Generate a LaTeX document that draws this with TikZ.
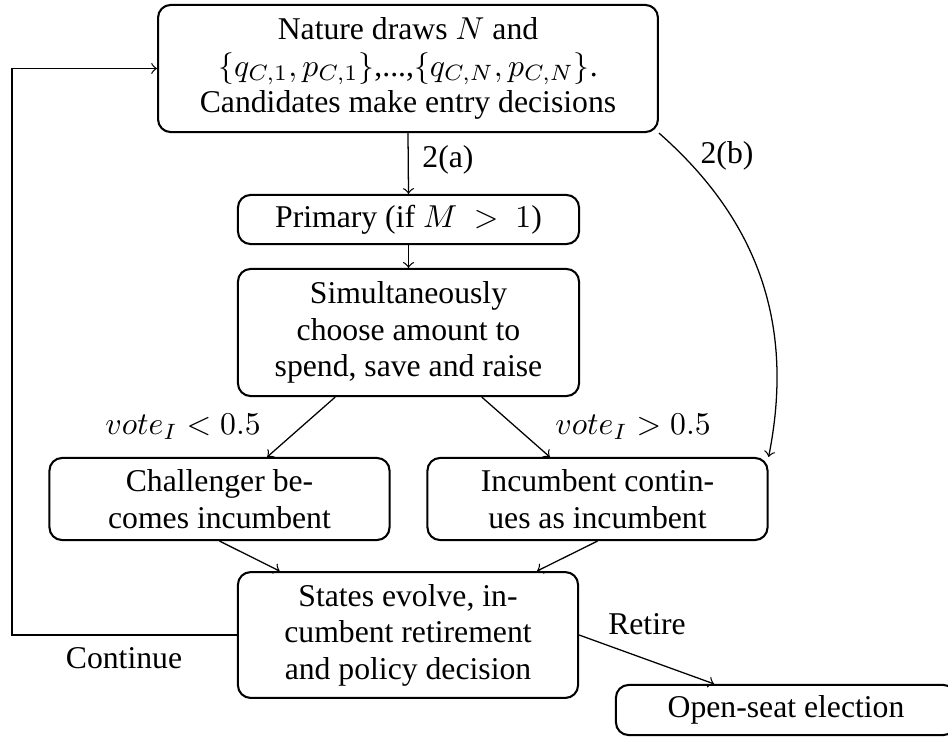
\documentclass[tikz,border=0pt]{standalone}
\usepackage{fontspec}
\setmainfont{Liberation Serif}
\begin{document}
\begin{tikzpicture}[x=0.31546pt, y=-0.31546pt,
  box/.style={draw, line width=0.65pt, rounded corners=4pt, align=center, inner sep=0pt, font=\fontsize{10}{11.5}\selectfont},
  conn/.style={->, line width=0.4pt},
  lbl/.style={font=\fontsize{10}{11.5}\selectfont, inner sep=0pt}]
\useasboundingbox (0,0) rectangle (948,738);
\clip (0,0) rectangle (948,738);

\node[box, minimum width=157.7pt, minimum height=40.1pt] (top) at (408,68.5)
  {Nature draws $N$ and\\ $\{q_{C,1},p_{C,1}\}$,...,$\{q_{C,N},p_{C,N}\}$.\\ Candidates make entry decisions};
\node[box, minimum width=107.6pt, minimum height=15.5pt] (primary) at (408.5,219.5)
  {Primary (if $M\ >\ 1$)};
\node[box, minimum width=107.6pt, minimum height=40.1pt] (middle) at (408.5,332.5)
  {Simultaneously\\ choose amount to\\ spend, save and raise};
\node[box, minimum width=107.3pt, minimum height=25.9pt] (chal) at (219.5,499)
  {Challenger be-\\ comes incumbent};
\node[box, minimum width=107.3pt, minimum height=25.9pt] (inc) at (597.5,499)
  {Incumbent contin-\\ ues as incumbent};
\node[box, minimum width=107.3pt, minimum height=39.7pt] (states) at (408,635)
  {States evolve, in-\\ cumbent retirement\\ and policy decision};
\node[box, minimum width=107.3pt, minimum height=15.8pt] (open) at (786,710)
  {Open-seat election};

\coordinate (fb) at (12,0);

\draw[conn] (top.south) -- (primary.north);
\draw[conn] (primary.south) -- (middle.north);
\draw[conn] (middle) -- (chal);
\draw[conn] (middle) -- (inc);
\draw[conn] (chal.south) -- (states);
\draw[conn] (inc.south) -- (states);
\draw[conn] (states.east) -- (open);
\draw[conn] (top.south east) to[bend left=30] (inc.north east);
\draw[conn] (states.west) -- (states.west -| fb) -- (top.west -| fb) -- (top.west);

\node[lbl] (la) at (448,160) {2(a)};
\node[lbl] (lb) at (727,156) {2(b)};
\node[lbl] (lv1) at (183,427) {$vote_I < 0.5$};
\node[lbl] (lv2) at (633,427) {$vote_I > 0.5$};
\node[lbl] (lr) at (647,624) {Retire};
\node[lbl] (lc) at (124,658) {Continue};
\end{tikzpicture}
\end{document}
